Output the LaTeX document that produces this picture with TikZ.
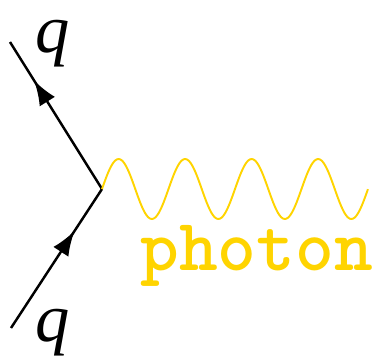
\documentclass[tikz,border=0pt]{standalone}
\usepackage{fontspec}
\usetikzlibrary{arrows.meta, decorations.markings}
\newfontfamily\quarkfont{Liberation Serif}
\definecolor{photongold}{RGB}{255,212,0}

\begin{document}
\begin{tikzpicture}[
    x=0.02cm, y=-0.02cm,
    fermion/.style={line width=1.4pt, postaction={decorate},
        decoration={markings, mark=at position #1 with {\arrow{Latex[length=0.5cm, width=0.36cm]}}}},
    photonline/.style={photongold, line width=1.1pt},
    quark/.style={font=\fontsize{39}{42}\quarkfont\itshape, inner sep=0pt},
    plabel/.style={font=\fontsize{42}{46}\ttfamily\bfseries, text=photongold, inner sep=0pt}
]
    \useasboundingbox (0,0) rectangle (376,356);

    % Vertex and line ends
    \coordinate (vtx) at (102,189);
    \coordinate (qin) at (11,328);
    \coordinate (qout) at (10,42);

    % Quark lines
    \draw[fermion=0.7] (qin) -- (vtx);
    \draw[fermion=0.74] (vtx) -- (qout);

    % Photon, four periods
    \draw[photonline, shift={(vtx)}] plot[domain=0:4, samples=161, smooth]
        ({66.5*\x}, {-30*sin(360*\x)}) coordinate (wend);

    % Labels
    \node[quark, anchor=base] (qtop) at (53,52) {q};
    \node[quark, anchor=base] (qbot) at (53,341) {q};
    \node[plabel, anchor=base west] (photon) at (140,270) {photon};
\end{tikzpicture}
\end{document}
